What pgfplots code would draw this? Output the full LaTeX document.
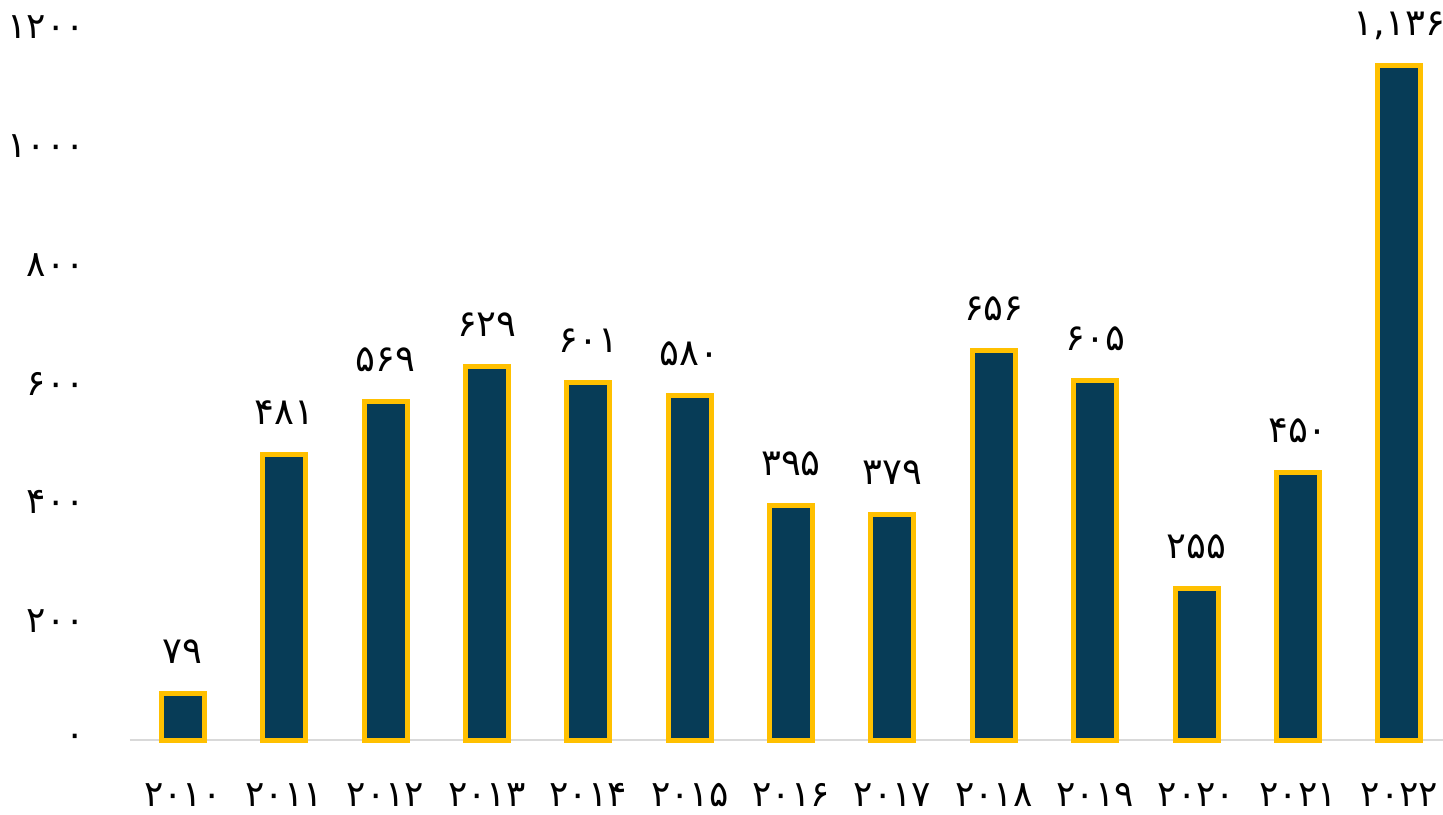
\documentclass[border=0pt]{standalone}
\usepackage{fontspec}
\usepackage{pgfplots}
\usepackage{pgfplotstable}
\pgfplotsset{compat=1.18}
\setmainfont{DejaVu Sans}
\newfontfamily\fafont[Script=Arabic]{DejaVu Sans}

\definecolor{barnavy}{HTML}{073C57}
\definecolor{bargold}{HTML}{FFC000}
\definecolor{axisgrey}{HTML}{D9D9D9}

% yearly values, with the label printed above each bar
\pgfplotstableread{
x  y    lab
0  79   ۷۹
1  481  ۴۸۱
2  569  ۵۶۹
3  629  ۶۲۹
4  601  ۶۰۱
5  580  ۵۸۰
6  395  ۳۹۵
7  379  ۳۷۹
8  656  ۶۵۶
9  605  ۶۰۵
10 255  ۲۵۵
11 450  ۴۵۰
12 1136 ۱,۱۳۶
}\datatable

\begin{document}
\begin{tikzpicture}
\begin{axis}[
  at={(0,0)}, anchor=south west,
  scale only axis,
  width=656.5bp, height=356.5bp,
  xmin=-0.52, xmax=12.43,
  ymin=0, ymax=1200,
  clip=false,
  axis x line*=bottom,
  axis y line*=left,
  x axis line style={draw=none},
  y axis line style={draw=none},
  ytick={0,200,400,600,800,1000,1200},
  yticklabels={۰,۲۰۰,۴۰۰,۶۰۰,۸۰۰,۱۰۰۰,۱۲۰۰},
  xtick={0,...,12},
  xticklabels={۲۰۱۰,۲۰۱۱,۲۰۱۲,۲۰۱۳,۲۰۱۴,۲۰۱۵,۲۰۱۶,۲۰۱۷,۲۰۱۸,۲۰۱۹,۲۰۲۰,۲۰۲۱,۲۰۲۲},
  major tick length=0pt,
  tick label style={font=\fafont\fontsize{18bp}{21bp}\selectfont},
  xticklabel style={anchor=base, yshift=-33bp},
  yticklabel style={anchor=east, xshift=-19bp},
  ]
  % baseline of the category axis
  \draw[axisgrey, line width=1bp] (axis cs:-0.52,0) -- (axis cs:12.43,0);
  \addplot[
    ybar, bar width=21.5bp, bar shift=0pt,
    fill=barnavy, draw=bargold, line width=2.5bp,
    point meta=explicit symbolic,
    nodes near coords,
    nodes near coords style={font=\fafont\fontsize{18.5bp}{21bp}\selectfont, anchor=base, yshift=15bp, text=black},
  ] table[x=x, y=y, meta=lab] {\datatable};
\end{axis}
\pgfresetboundingbox
\useasboundingbox (-65bp,-37.5bp) rectangle (656.5bp,370bp);
\end{tikzpicture}
\end{document}
